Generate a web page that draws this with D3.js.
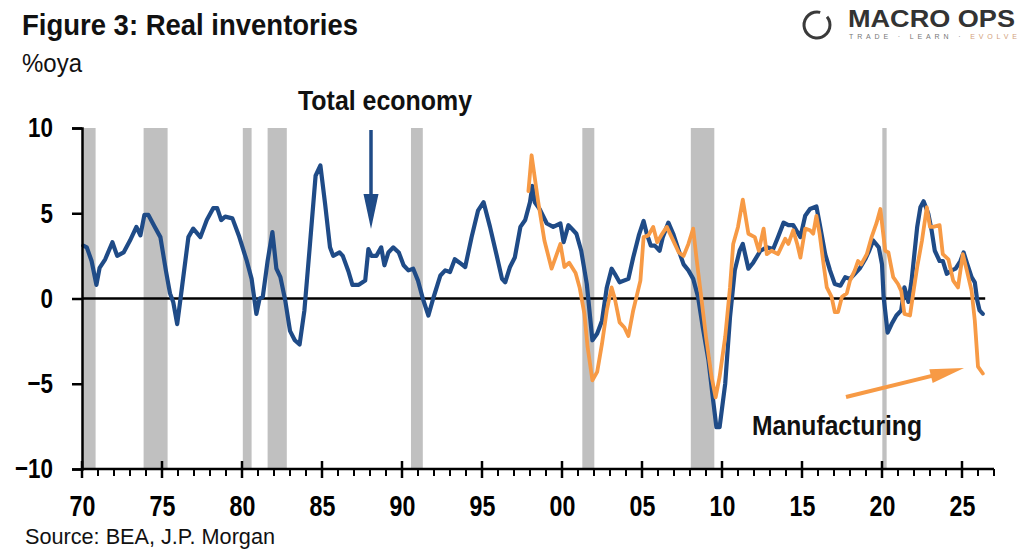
<!DOCTYPE html>
<html>
<head>
<meta charset="utf-8">
<script src="https://cdn.jsdelivr.net/npm/d3@7/dist/d3.min.js"></script>
<style>
  html, body { margin: 0; padding: 0; background: #fff; }
  svg { display: block; }
  text { font-family: "Liberation Sans", Arial, sans-serif; }
</style>
</head>
<body>
<svg id="chart" width="1024" height="550"></svg>
<script>
// ---------- DATA ----------
const xTickYears = [1970, 1975, 1980, 1985, 1990, 1995, 2000, 2005, 2010, 2015, 2020, 2025];
const yTickValues = [-10, -5, 0, 5, 10];

// recession periods [start, end] (decimal years)
const recessions = [
  [1970.05, 1970.85], [1973.85, 1975.35], [1980.05, 1980.6], [1981.6, 1982.8],
  [1990.56, 1991.3], [2001.27, 2002.02], [2008.05, 2009.52], [2020.02, 2020.29]
];

// Total economy real inventories, %oya [year, value]
const totalEconomy = [
  [1970.08,3.1],[1970.3,3.0],[1970.6,2.2],[1970.9,0.8],[1971.1,1.8],[1971.45,2.3],[1971.9,3.3],
  [1972.2,2.5],[1972.6,2.7],[1973.0,3.4],[1973.4,4.2],[1973.65,3.7],[1973.9,4.9],[1974.15,4.9],
  [1974.55,4.2],[1974.9,3.6],[1975.25,1.6],[1975.5,0.3],[1975.7,-0.2],[1975.95,-1.5],[1976.2,0.3],
  [1976.65,3.6],[1976.95,4.1],[1977.4,3.6],[1977.8,4.6],[1978.2,5.3],[1978.45,5.3],[1978.7,4.6],
  [1978.95,4.8],[1979.4,4.7],[1979.8,3.7],[1980.3,2.2],[1980.6,1.15],[1980.9,-0.9],[1981.1,0.0],
  [1981.3,0.1],[1981.6,2.2],[1981.9,3.9],[1982.15,1.75],[1982.4,1.25],[1982.7,-0.1],[1983.0,-1.9],
  [1983.3,-2.45],[1983.6,-2.7],[1983.9,-0.7],[1984.25,3.2],[1984.6,7.2],[1984.9,7.8],[1985.2,5.5],
  [1985.5,3.0],[1985.7,2.5],[1986.1,2.7],[1986.3,2.5],[1986.65,1.6],[1986.9,0.8],[1987.3,0.8],
  [1987.7,1.05],[1987.9,2.9],[1988.1,2.5],[1988.4,2.5],[1988.7,3.0],[1988.9,1.95],[1989.15,2.7],
  [1989.45,3.0],[1989.8,2.7],[1990.1,1.95],[1990.4,1.65],[1990.7,1.75],[1991.0,1.05],[1991.3,0.0],
  [1991.65,-1.0],[1991.95,0.0],[1992.4,1.35],[1992.7,1.65],[1993.0,1.55],[1993.3,2.3],[1993.6,2.1],
  [1993.95,1.85],[1994.35,3.6],[1994.75,5.15],[1995.1,5.65],[1995.5,4.2],[1995.9,2.6],[1996.25,1.15],
  [1996.45,0.95],[1996.75,1.85],[1997.05,2.4],[1997.4,4.2],[1997.7,4.6],[1998.0,5.65],[1998.15,6.6],
  [1998.3,5.65],[1998.6,5.25],[1999.05,4.4],[1999.45,4.2],[1999.9,4.4],[2000.1,3.3],[2000.4,4.3],
  [2000.7,4.0],[2000.9,3.8],[2001.2,2.8],[2001.55,0.85],[2001.9,-2.45],[2002.2,-2.05],[2002.5,-1.3],
  [2002.8,0.65],[2003.1,1.75],[2003.3,1.45],[2003.6,0.95],[2004.15,1.15],[2004.45,2.4],[2004.8,3.7],
  [2005.1,4.55],[2005.3,3.8],[2005.55,3.1],[2005.8,3.1],[2006.1,2.8],[2006.3,3.6],[2006.65,4.45],
  [2006.95,3.8],[2007.3,2.8],[2007.6,2.0],[2007.9,1.65],[2008.2,1.15],[2008.5,0.1],[2008.8,-1.7],
  [2009.15,-3.6],[2009.45,-6.0],[2009.65,-7.55],[2009.85,-7.55],[2010.2,-5.0],[2010.5,-1.1],
  [2010.8,1.65],[2011.1,2.8],[2011.3,3.2],[2011.65,1.75],[2011.95,2.1],[2012.4,2.8],[2012.8,3.0],
  [2013.2,2.9],[2013.5,3.6],[2013.85,4.45],[2014.15,4.3],[2014.45,4.3],[2014.9,3.6],[2015.2,4.85],
  [2015.5,5.25],[2015.9,5.4],[2016.1,4.4],[2016.45,2.6],[2016.75,1.65],[2017.05,0.85],[2017.4,0.75],
  [2017.7,1.25],[2018.0,1.15],[2018.3,1.45],[2018.6,1.75],[2018.95,2.3],[2019.2,2.8],[2019.45,3.4],
  [2019.8,3.0],[2020.0,2.0],[2020.1,0.1],[2020.35,-2.0],[2020.6,-1.5],[2020.9,-1.0],[2021.2,-0.7],
  [2021.4,0.65],[2021.65,-0.2],[2021.85,1.05],[2022.2,4.2],[2022.4,5.35],[2022.6,5.7],[2022.9,4.95],
  [2023.1,4.0],[2023.3,2.8],[2023.6,2.2],[2023.8,2.2],[2024.05,1.45],[2024.35,1.65],[2024.6,1.75],
  [2024.9,2.2],[2025.1,2.7],[2025.3,2.1],[2025.6,1.25],[2025.8,0.95],[2025.95,-0.1],[2026.1,-0.7],
  [2026.3,-0.9]
];

// Manufacturing real inventories, %oya [year, value]
const manufacturing = [
  [1997.9,6.3],[1998.1,8.4],[1998.5,5.75],[1998.9,3.4],[1999.35,1.75],[1999.9,3.2],[2000.15,1.85],
  [2000.45,2.1],[2000.85,1.5],[2001.1,0.65],[2001.4,-0.9],[2001.6,-2.85],[2001.9,-4.8],[2002.2,-4.3],
  [2002.5,-2.65],[2002.8,-0.7],[2003.1,0.65],[2003.3,0.0],[2003.6,-1.4],[2003.9,-1.7],[2004.15,-2.2],
  [2004.45,-0.7],[2004.9,1.05],[2005.1,3.6],[2005.4,3.7],[2005.7,4.2],[2005.95,3.3],[2006.2,3.7],
  [2006.55,4.2],[2006.85,3.6],[2007.3,2.7],[2007.6,2.5],[2007.9,3.2],[2008.2,4.1],[2008.4,2.4],
  [2008.7,0.1],[2009.0,-2.25],[2009.35,-4.6],[2009.6,-5.8],[2009.85,-4.6],[2010.2,-2.25],[2010.5,0.65],
  [2010.7,3.2],[2011.0,4.2],[2011.3,5.8],[2011.65,3.8],[2012.05,3.6],[2012.3,2.8],[2012.6,4.1],
  [2012.8,2.6],[2013.1,2.8],[2013.5,2.6],[2013.95,3.5],[2014.15,3.2],[2014.45,4.0],[2014.7,3.2],
  [2014.9,2.4],[2015.2,4.1],[2015.5,4.0],[2015.7,3.8],[2015.9,4.85],[2016.1,3.8],[2016.35,2.0],
  [2016.55,0.65],[2016.85,0.1],[2017.05,-0.8],[2017.25,-0.8],[2017.5,0.1],[2017.8,0.3],[2018.0,1.05],
  [2018.3,1.65],[2018.5,2.2],[2018.7,2.0],[2019.05,2.6],[2019.35,3.6],[2019.65,4.4],[2019.9,5.25],
  [2020.05,4.0],[2020.2,2.8],[2020.4,2.7],[2020.7,1.25],[2021.0,0.85],[2021.2,0.45],[2021.4,-0.9],
  [2021.75,-1.0],[2021.95,0.3],[2022.2,1.85],[2022.5,3.4],[2022.8,5.35],[2023.0,4.2],[2023.2,4.2],
  [2023.6,4.3],[2023.8,2.6],[2024.15,2.3],[2024.45,1.05],[2024.75,0.65],[2025.05,2.6],[2025.3,1.65],
  [2025.6,0.45],[2025.8,-1.3],[2026.0,-4.0],[2026.3,-4.4]
];

// ---------- CHART ----------
const svg = d3.select("#chart");
const BLUE = "#1f4b87", ORANGE = "#f79a45", GREY = "#c0c0c0";

const x = d3.scaleLinear().domain([1970, 2027]).range([82, 994]);
const y = d3.scaleLinear().domain([-10, 10]).range([469, 128]);

// recession bars
svg.append("g").selectAll("rect").data(recessions).join("rect")
  .attr("x", d => x(d[0])).attr("width", d => x(d[1]) - x(d[0]))
  .attr("y", y(10)).attr("height", y(-10) - y(10))
  .attr("fill", GREY);

// zero line
svg.append("line")
  .attr("x1", x(1970)).attr("x2", x(2026.45))
  .attr("y1", y(0)).attr("y2", y(0))
  .attr("stroke", "#000").attr("stroke-width", 2.5);

// lines
const line = d3.line().x(d => x(d[0])).y(d => y(d[1]));
svg.append("path").datum(totalEconomy).attr("d", line)
  .attr("fill", "none").attr("stroke", BLUE).attr("stroke-width", 4.2)
  .attr("stroke-linejoin", "round").attr("stroke-linecap", "round");
svg.append("path").datum(manufacturing).attr("d", line)
  .attr("fill", "none").attr("stroke", ORANGE).attr("stroke-width", 3.8)
  .attr("stroke-linejoin", "round").attr("stroke-linecap", "round");

// narrow helper: compress text horizontally
function narrow(sel, f) {
  sel.each(function() {
    const w = this.getComputedTextLength();
    d3.select(this).attr("textLength", w * f).attr("lengthAdjust", "spacingAndGlyphs");
  });
}

// y axis
const yAxis = svg.append("g").attr("transform", `translate(${x(1970)},0)`)
  .call(d3.axisLeft(y).tickValues(yTickValues).tickSize(10).tickPadding(19).tickFormat(d3.format("d")));
yAxis.select(".domain").attr("stroke", "#000").attr("stroke-width", 2.5);
yAxis.selectAll(".tick line").attr("stroke", "#000").attr("stroke-width", 2.5);
yAxis.selectAll(".tick text")
  .attr("font-size", 28).attr("font-weight", "bold").attr("fill", "#000")
  .attr("font-family", "'Liberation Sans', Arial, sans-serif").call(narrow, 0.8);

// x axis
const xAxisG = svg.append("g").attr("transform", `translate(0,${y(-10)})`);
xAxisG.append("line").attr("x1", x(1970)).attr("x2", x(2027))
  .attr("stroke", "#000").attr("stroke-width", 2.5);
const minorYears = d3.range(1970, 2028);
xAxisG.selectAll("line.minor").data(minorYears.filter(v => v % 5 !== 0)).join("line")
  .attr("class", "minor").attr("x1", d => x(d)).attr("x2", d => x(d))
  .attr("y1", 0).attr("y2", 7).attr("stroke", "#000").attr("stroke-width", 2);
xAxisG.selectAll("line.major").data(xTickYears).join("line")
  .attr("class", "major").attr("x1", d => x(d)).attr("x2", d => x(d))
  .attr("y1", -8).attr("y2", 9).attr("stroke", "#000").attr("stroke-width", 2.5);
const xAxisLabels = svg.append("g").attr("transform", `translate(0,${y(-10)})`)
  .call(d3.axisBottom(x).tickValues(xTickYears).tickSize(0).tickPadding(26)
    .tickFormat(d => String(d % 100).padStart(2, "0")));
xAxisLabels.select(".domain").remove();
xAxisLabels.selectAll(".tick text")
  .attr("font-size", 29).attr("font-weight", "bold").attr("fill", "#000")
  .attr("font-family", "'Liberation Sans', Arial, sans-serif").call(narrow, 0.8);

// texts
function label(txt, xx, yy, size, weight, width, fill) {
  return svg.append("text").attr("x", xx).attr("y", yy).text(txt)
    .attr("font-size", size).attr("font-weight", weight).attr("fill", fill || "#000")
    .attr("textLength", width).attr("lengthAdjust", "spacingAndGlyphs");
}
label("Figure 3: Real inventories", 22, 35, 30, "bold", 336, "#111");
label("%oya", 22, 72, 25, "normal", 60, "#111");
label("Total economy", 298, 110, 28, "bold", 174, "#111");
label("Manufacturing", 752, 435, 28, "bold", 170, "#111");
label("Source: BEA, J.P. Morgan", 25, 544, 22, "normal", 250, "#111");

// blue arrow
svg.append("line").attr("x1", 371).attr("x2", 371).attr("y1", 130).attr("y2", 200)
  .attr("stroke", BLUE).attr("stroke-width", 3.5);
svg.append("path")
  .attr("d", d3.line()([[363.5, 194], [378.5, 194], [371, 229]]) + "Z")
  .attr("fill", BLUE);

// orange arrow
const a0 = [846, 397], a1 = [964, 368];
const ang = Math.atan2(a1[1] - a0[1], a1[0] - a0[0]);
const headLen = 34, headW = 7;
const hb = [a1[0] - headLen * Math.cos(ang), a1[1] - headLen * Math.sin(ang)];
svg.append("line").attr("x1", a0[0]).attr("y1", a0[1]).attr("x2", hb[0] + 2 * Math.cos(ang)).attr("y2", hb[1] + 2 * Math.sin(ang))
  .attr("stroke", ORANGE).attr("stroke-width", 4);
svg.append("path")
  .attr("d", d3.line()([
    [hb[0] - headW * Math.sin(ang), hb[1] + headW * Math.cos(ang)],
    [hb[0] + headW * Math.sin(ang), hb[1] - headW * Math.cos(ang)],
    a1]) + "Z")
  .attr("fill", ORANGE);

// logo
const logo = svg.append("g");
logo.append("path")
  .attr("transform", "translate(817,25)")
  .attr("d", d3.arc().innerRadius(11.5).outerRadius(14.5)
    .startAngle(Math.PI * 0.28).endAngle(Math.PI * 2.08)())
  .attr("fill", "#3a3a3a");
logo.append("text").attr("x", 848).attr("y", 27).text("MACRO OPS")
  .attr("font-family", "Lato, 'Open Sans', sans-serif").attr("font-size", 23).attr("font-weight", "600")
  .attr("fill", "#333").attr("textLength", 167).attr("lengthAdjust", "spacingAndGlyphs");
const tag = logo.append("text").attr("x", 849).attr("y", 39)
  .attr("font-family", "Lato, 'Open Sans', sans-serif").attr("font-size", 7)
  .attr("fill", "#777").attr("textLength", 168).attr("lengthAdjust", "spacing");
tag.append("tspan").text("TRADE · LEARN · ");
tag.append("tspan").text("EVOLVE").attr("fill", "#d2a07a");
</script>
</body>
</html>
